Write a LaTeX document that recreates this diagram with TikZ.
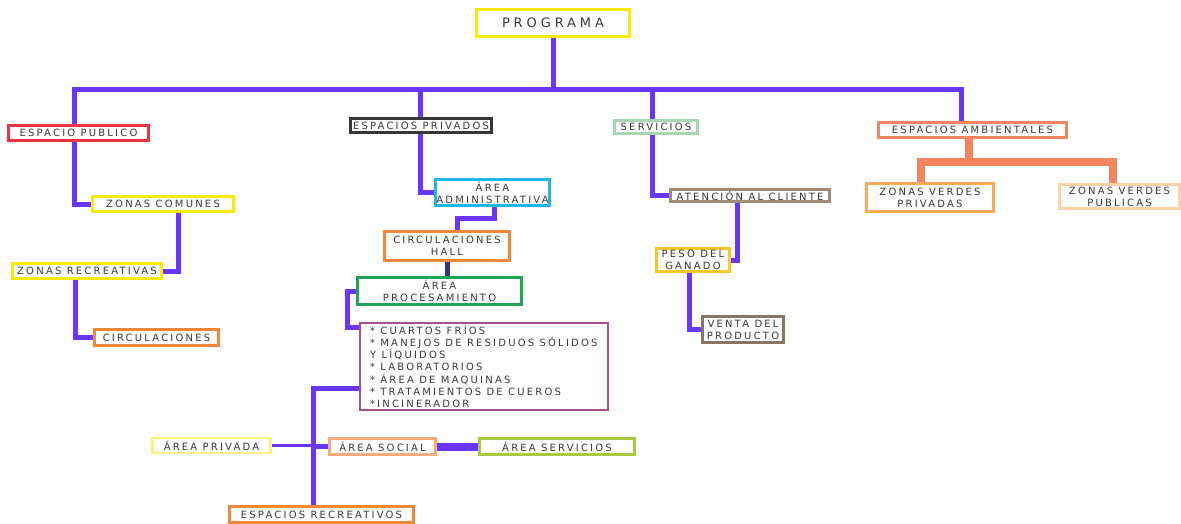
\documentclass[tikz,border=0pt]{standalone}
\usepackage{fontspec}
\usetikzlibrary{backgrounds}
\newfontfamily\mapafont[LetterSpace=22]{DejaVu Sans}
\newfontfamily\titulofont[LetterSpace=30]{DejaVu Sans}

\definecolor{conector}{HTML}{6A36FF}
\definecolor{texto}{HTML}{383838}
\definecolor{amarillo}{HTML}{FFEA00}
\definecolor{rojo}{HTML}{EE3340}
\definecolor{gris}{HTML}{363636}
\definecolor{verdeclaro}{HTML}{A6D8B4}
\definecolor{salmon}{HTML}{F4865F}
\definecolor{naranja}{HTML}{F5873A}
\definecolor{cian}{HTML}{1FB8EE}
\definecolor{verde}{HTML}{1FA655}
\definecolor{morado}{HTML}{A54F93}
\definecolor{amarilloclaro}{HTML}{FFF27A}
\definecolor{durazno}{HTML}{FBAA7C}
\definecolor{lima}{HTML}{A6CC3E}
\definecolor{cafeclaro}{HTML}{A08C72}
\definecolor{dorado}{HTML}{FFC72A}
\definecolor{cafe}{HTML}{8A7660}
\definecolor{naranjaclaro}{HTML}{FFA857}
\definecolor{piel}{HTML}{FFD2A6}
\definecolor{azuloscuro}{HTML}{34348A}

\begin{document}
\begin{tikzpicture}[x=1pt, y=-1pt,
    caja/.style={draw, line width=2.5pt, fill=white, inner sep=0pt, align=center,
        text=texto, font=\mapafont\fontsize{10}{12}\selectfont},
    conn/.style={line width=5pt, color=conector}]

\useasboundingbox (0,0) rectangle (1181,524);

% Nivel principal
\node[caja, draw=amarillo, minimum width=153, minimum height=27,
    font=\titulofont\fontsize{13}{15}\selectfont] (programa) at (553,23) {PROGRAMA};
\node[caja, draw=rojo, minimum width=140, minimum height=15] (publico) at (78.5,133) {ESPACIO PUBLICO};
\node[caja, draw=gris, minimum width=141, minimum height=14] (privados) at (421,125.5) {ESPACIOS PRIVADOS};
\node[caja, draw=verdeclaro, minimum width=83, minimum height=13] (servicios) at (656,127) {SERVICIOS};
\node[caja, draw=salmon, minimum width=188, minimum height=15] (ambientales) at (972.5,130) {ESPACIOS AMBIENTALES};

% Espacio publico
\node[caja, draw=amarillo, minimum width=141, minimum height=15] (comunes) at (163,204) {ZONAS COMUNES};
\node[caja, draw=amarillo, minimum width=149, minimum height=15] (recreativas) at (87,271) {ZONAS RECREATIVAS};
\node[caja, draw=naranja, minimum width=124, minimum height=16] (circulaciones) at (156.5,337.5) {CIRCULACIONES};

% Espacios privados
\node[caja, draw=cian, minimum width=114, minimum height=26] (administrativa) at (492.5,192.5) {ÁREA\\ADMINISTRATIVA};
\node[caja, draw=naranja, minimum width=125, minimum height=29] (hall) at (447,246) {CIRCULACIONES\\HALL};
\node[caja, draw=verde, minimum width=164, minimum height=27] (procesamiento) at (439.5,291) {ÁREA\\PROCESAMIENTO};
\node[caja, draw=morado, anchor=north west, minimum width=248, minimum height=87, align=left,
    font=\mapafont\fontsize{10}{12.2}\selectfont] (lista) at (358.5,321.5)
    {* CUARTOS FRÍOS\\* MANEJOS DE RESIDUOS SÓLIDOS\\Y LÍQUIDOS\\* LABORATORIOS\\* ÁREA DE MAQUINAS\\* TRATAMIENTOS DE CUEROS\\*INCINERADOR};
\node[caja, draw=amarilloclaro, minimum width=118, minimum height=15] (privada) at (211.5,445.5) {ÁREA PRIVADA};
\node[caja, draw=durazno, minimum width=106, minimum height=16] (social) at (382.5,446.5) {ÁREA SOCIAL};
\node[caja, draw=lima, minimum width=155, minimum height=16] (servgen) at (557,446.5) {ÁREA SERVICIOS};
\node[caja, draw=naranja, minimum width=184, minimum height=16] (recreativos) at (321.5,514.5) {ESPACIOS RECREATIVOS};

% Servicios
\node[caja, draw=cafeclaro, minimum width=159, minimum height=12] (atencion) at (750,195.5) {ATENCIÓN AL CLIENTE};
\node[caja, draw=dorado, minimum width=73, minimum height=23] (peso) at (693,260) {PESO DEL\\GANADO};
\node[caja, draw=cafe, minimum width=81, minimum height=26] (venta) at (743,329.5) {VENTA DEL\\PRODUCTO};

% Espacios ambientales
\node[caja, draw=naranjaclaro, minimum width=127, minimum height=28] (zvprivadas) at (930,197.5) {ZONAS VERDES\\PRIVADAS};
\node[caja, draw=piel, minimum width=120, minimum height=24] (zvpublicas) at (1119.5,196.5) {ZONAS VERDES\\PUBLICAS};

% Conectores
\begin{scope}[on background layer]
\coordinate (bus) at (553,90);
\draw[conn] (programa.south) -- (bus);
\draw[conn] ([xshift=-4]publico.north) |- (bus) -| ([xshift=-11]ambientales.north);
\draw[conn] ([xshift=-1]privados.north) -- ([xshift=-1]privados.north |- bus);
\draw[conn] ([xshift=-4]servicios.north) -- ([xshift=-4]servicios.north |- bus);

\draw[conn] ([xshift=-4]publico.south) |- (comunes.west);
\draw[conn] ([xshift=15]comunes.south) |- (recreativas.east);
\draw[conn] ([xshift=-12]recreativas.south) |- (circulaciones.west);

\draw[conn] ([xshift=-1]privados.south) |- (administrativa.west);
\draw[conn] ([xshift=2]administrativa.south) -- ++(0,12) -| ([xshift=10]hall.north);
\draw[conn, color=azuloscuro] (hall.south) -- (hall.south |- procesamiento.north);
\draw[conn] (procesamiento.west) -- ++(-9,0) |- ([yshift=-6]lista.north west);
\draw[conn] ([yshift=-22]lista.west) -| ([xshift=-8]recreativos.north);
\coordinate (cruce) at (313,446);
\draw[conn, line width=3pt] (privada.east) -- (privada.east -| cruce);
\draw[conn] (cruce |- social.west) -- (social.west);
\draw[conn, line width=8pt] (social.east) -- (servgen.west);

\draw[conn] ([xshift=-4]servicios.south) |- (atencion.west);
\draw[conn] ([xshift=-13]atencion.south) |- (peso.east);
\draw[conn] ([xshift=-4]peso.south) |- (venta.west);

\coordinate (ambbus) at (968,162);
\draw[line width=8pt, color=salmon] ([xshift=-4]ambientales.south) -- ([xshift=-4]ambientales.south |- ambbus);
\draw[line width=8pt, color=salmon] ([xshift=-9]zvprivadas.north) |- (ambbus) -| ([xshift=-7]zvpublicas.north);
\end{scope}

\end{tikzpicture}
\end{document}
